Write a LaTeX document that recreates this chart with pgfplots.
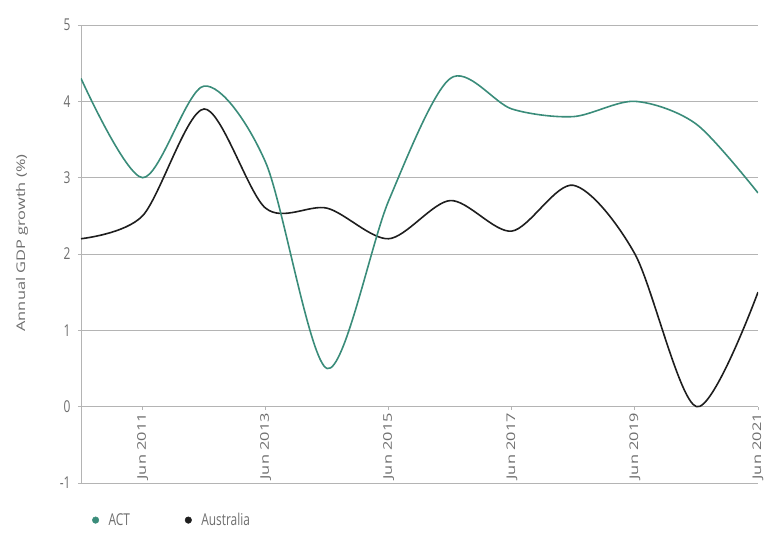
\documentclass[border=0pt]{standalone}
\usepackage{fontspec}
\setmainfont{Open Sans}
% tall (horizontal text) and long (rotated text) cuts of the same face
\newfontfamily\tallfont[FakeStretch=0.73]{Open Sans}
\newfontfamily\longfont[FakeStretch=1.37]{Open Sans}
\usepackage{pgfplots}
\pgfplotsset{compat=1.18}

\definecolor{actgreen}{HTML}{3A8C7A}
\definecolor{ausblack}{HTML}{1E1E1E}
\definecolor{gridgray}{HTML}{B4B4B4}
\definecolor{labelgray}{HTML}{6E6E6E}

\begin{document}
\begin{tikzpicture}
\begin{axis}[
  scale only axis, width=677bp, height=458bp,
  xmin=0, xmax=11, ymin=-1, ymax=5,
  axis x line=middle, axis y line=left,
  axis line style={-, draw=gridgray, line width=0.9bp},
  hide obscured x ticks=false, hide obscured y ticks=false,
  /pgf/number format/assume math mode=true,
  xtick={1,3,5,7,9,11},
  xticklabels={Jun 2011,Jun 2013,Jun 2015,Jun 2017,Jun 2019,Jun 2021},
  xticklabel style={rotate=90, anchor=east,
    font=\longfont\fontsize{12}{14}\selectfont, text=labelgray},
  ytick={-1,0,...,5},
  yticklabels={-1,0,1,2,3,4,5},
  yticklabel style={xshift=-4bp,
    font=\tallfont\fontsize{16.4}{18}\selectfont, text=labelgray},
  ymajorgrids, grid style={draw=gridgray, line width=0.9bp},
  tick align=outside, major tick length=3bp,
  tick style={draw=gridgray, line width=0.9bp},
  ylabel={Annual GDP growth (\%)},
  ylabel style={at={(axis description cs:-0.087,0.524)}, anchor=center,
    font=\longfont\fontsize{12}{14}\selectfont, text=labelgray},
  legend columns=2,
  legend style={draw=none, fill=none, at={(axis description cs:0.012,-0.081)},
    anchor=west, font=\tallfont\fontsize{16.4}{18}\selectfont, text=labelgray,
    /tikz/every even column/.append style={column sep=53bp},
    nodes={inner sep=2bp}},
  legend image code/.code={%
    \draw[#1] plot coordinates {(3bp,0bp)};
    \path[draw=none, fill=none] (14bp,0bp);},
]
% Australia, annual growth to June
\addplot[ausblack, line width=1.6bp, smooth, tension=0.5, forget plot] coordinates {
  (0,2.2) (1,2.5) (2,3.9) (3,2.6) (4,2.6) (5,2.2)
  (6,2.7) (7,2.3) (8,2.9) (9,2.0) (10,0.0) (11,1.5)};
% ACT, annual growth to June
\addplot[actgreen, line width=1.6bp, smooth, forget plot] coordinates {
  (0,4.3) (1,3.0) (2,4.2) (3,3.2) (4,0.5) (5,2.7)
  (6,4.3) (7,3.9) (8,3.8) (9,4.0) (10,3.7) (11,2.8)};
\addlegendimage{only marks, mark=*, mark size=3.3bp, actgreen}
\addlegendentry{ACT}
\addlegendimage{only marks, mark=*, mark size=3.3bp, ausblack}
\addlegendentry{Australia}
\end{axis}
\pgfresetboundingbox
\path[use as bounding box] ([xshift=-81bp,yshift=-57bp]current axis.south west)
  rectangle ([xshift=12bp,yshift=25bp]current axis.north east);
\end{tikzpicture}
\end{document}
